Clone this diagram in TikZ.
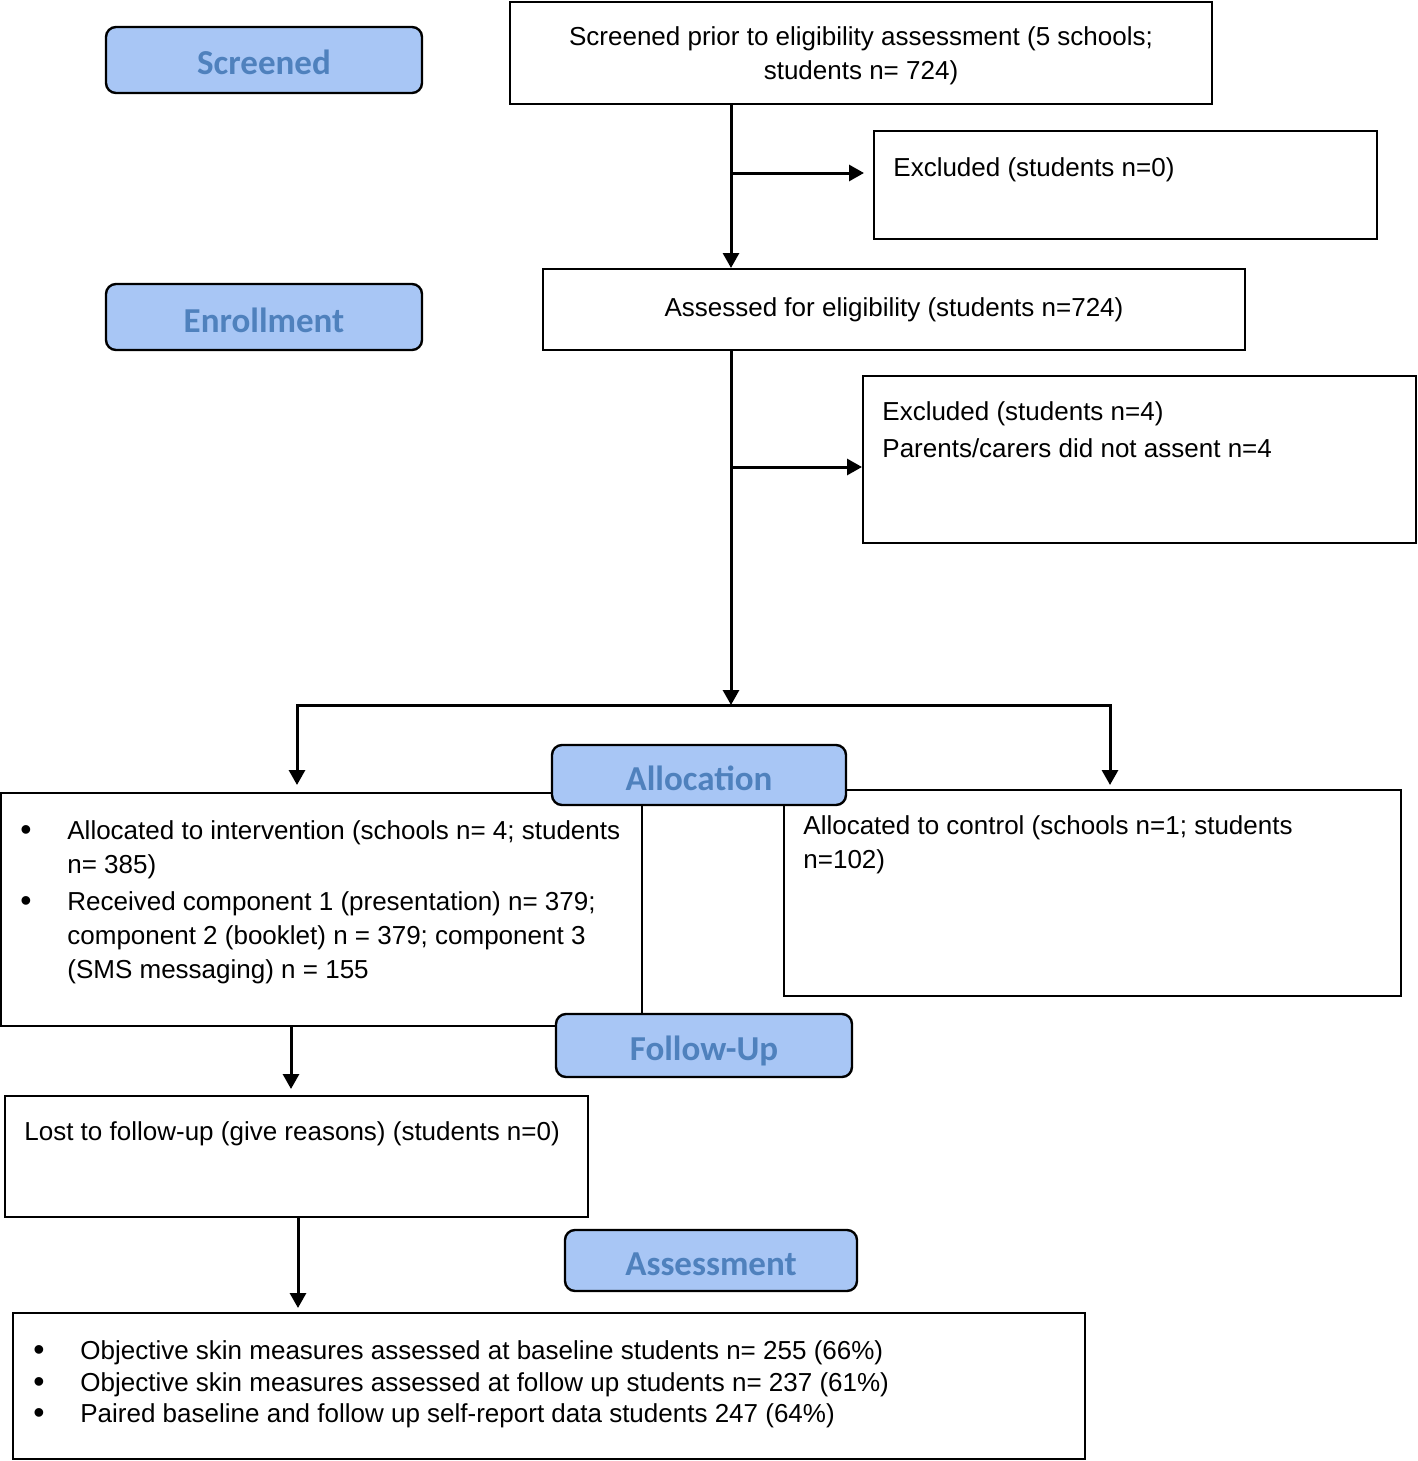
\documentclass[tikz,border=0pt]{standalone}
\usepackage{fontspec}
\setmainfont{Liberation Sans}
\newfontfamily\stagefont{Carlito}
\usepackage{tikz}
\usetikzlibrary{arrows.meta, positioning, calc}
\usepackage{xcolor}
\definecolor{stagefill}{RGB}{168,198,245}
\definecolor{stagetext}{RGB}{79,129,189}

\begin{document}
\begin{tikzpicture}[%
    x=0.5pt, y=-0.5pt,
    >={Triangle[length=7.5pt,width=8pt]},
    every node/.style={%
      font=\fontsize{13}{17}\selectfont,
      text=black,
      inner sep=0pt
    },
    frame/.style={draw=black, line width=1pt},
    dot/.style={font=\fontsize{16}{17}\selectfont},
    stage/.style={%
      draw=black, line width=1.2pt, fill=stagefill, rounded corners=5pt,
      font=\stagefont\bfseries\fontsize{17.5}{21}\selectfont, text=stagetext,
      text height=15pt, text depth=0pt
    },
    flow/.style={->, line width=1.5pt}
  ]
  \useasboundingbox (0,0) rectangle (1418,1461);

  % Boxes
  \node[frame, minimum width=351pt, minimum height=51pt, align=center] (box1) at (861,53)
    {\rule{0pt}{12pt}Screened prior to eligibility assessment (5 schools;\\ students n= 724)};
  \node[frame, minimum width=251.5pt, minimum height=54pt] (excl1) at (1125.5,185) {};
  \node[frame, minimum width=351pt, minimum height=40.5pt] (box2) at (894,309.5)
    {Assessed for eligibility (students n=724)};
  \node[frame, minimum width=276.5pt, minimum height=83.5pt] (excl2) at (1139.5,459.5) {};
  \node[frame, minimum width=320.5pt, minimum height=116.5pt] (interv) at (321.5,909.5) {};
  \node[frame, minimum width=308.5pt, minimum height=103pt] (control) at (1092.5,893) {};
  \node[frame, minimum width=291.5pt, minimum height=60.5pt] (lost) at (296.5,1156.5) {};
  \node[frame, minimum width=536pt, minimum height=73pt] (final) at (549,1386) {};

  % Texts in boxes
  \node[below right=20pt and 10pt of excl1.north west, anchor=west] (x1a) {Excluded (students n=0)};
  \node[below right=19.5pt and 10pt of excl2.north west, anchor=west] (x2a) {Excluded (students n=4)};
  \node[below=17pt of x2a.west, anchor=west] (x2b) {Parents/carers did not assent n=4};

  \node[below right=20.5pt and 33.5pt of interv.north west, anchor=west] (iv1) {Allocated to intervention (schools n= 4; students};
  \node[below=17pt of iv1.west, anchor=west] (iv2) {n= 385)};
  \node[below=18.5pt of iv2.west, anchor=west] (iv3) {Received component 1 (presentation) n= 379;};
  \node[below=17pt of iv3.west, anchor=west] (iv4) {component 2 (booklet) n = 379; component 3};
  \node[below=17pt of iv4.west, anchor=west] (iv5) {(SMS messaging) n = 155};
  \node[dot, left=20.5pt of iv1.west, anchor=center] (ivb1) {\textbullet};
  \node[dot, left=20.5pt of iv3.west, anchor=center] (ivb2) {\textbullet};

  \node[below right=19.5pt and 10pt of control.north west, anchor=west] (ct1) {Allocated to control (schools n=1; students};
  \node[below=17pt of ct1.west, anchor=west] (ct2) {n=102)};

  \node[below right=19.5pt and 10pt of lost.north west, anchor=west] (lt1) {Lost to follow-up (give reasons) (students n=0)};

  \node[below right=20.5pt and 34pt of final.north west, anchor=west] (as1) {Objective skin measures assessed at baseline students n= 255 (66\%)};
  \node[below=16pt of as1.west, anchor=west] (as2) {Objective skin measures assessed at follow up students n= 237 (61\%)};
  \node[below=15.5pt of as2.west, anchor=west] (as3) {Paired baseline and follow up self-report data students 247 (64\%)};
  \node[dot, left=20.5pt of as1.west, anchor=center] (asb1) {\textbullet};
  \node[dot, left=20.5pt of as2.west, anchor=center] (asb2) {\textbullet};
  \node[dot, left=20.5pt of as3.west, anchor=center] (asb3) {\textbullet};

  % Stage labels
  \node[stage, minimum width=158pt, minimum height=33pt] (screened) at (264,60) {Screened};
  \node[stage, minimum width=158pt, minimum height=33pt] (enroll) at (264,317) {Enrollment};
  \node[stage, minimum width=147pt, minimum height=30pt] (alloc) at (699,775) {Allocation};
  \node[stage, minimum width=148pt, minimum height=31.5pt] (follow) at (704,1045.5) {Follow-Up};
  \node[stage, minimum width=146pt, minimum height=30.5pt] (assess) at (711,1260.5) {Assessment};

  % Arrows
  \coordinate (j1) at (731,173);
  \coordinate (j2) at (731,467);
  \coordinate (sl) at (297,705);
  \coordinate (sr) at (1110,705);
  \coordinate (k1) at (291,1060);
  \coordinate (k2) at (298,1265);
  \draw[flow] (box1.south -| j1) -- (box2.north -| j1);
  \draw[flow, shorten >=4.5pt] (j1) -- (excl1.west |- j1);
  \draw[flow] (box2.south -| j2) -- (sl -| j2);
  \draw[flow] (j2) -- (excl2.west |- j2);
  \draw[flow, shorten >=3.5pt] (sl -| j2) -| (interv.north -| sl);
  \draw[flow, shorten >=2pt] (sr -| j2) -| (control.north -| sr);
  \draw[flow, shorten >=3pt] (interv.south -| k1) -- (lost.north -| k1);
  \draw[flow, shorten >=2pt] (lost.south -| k2) -- (final.north -| k2);

\end{tikzpicture}
\end{document}
